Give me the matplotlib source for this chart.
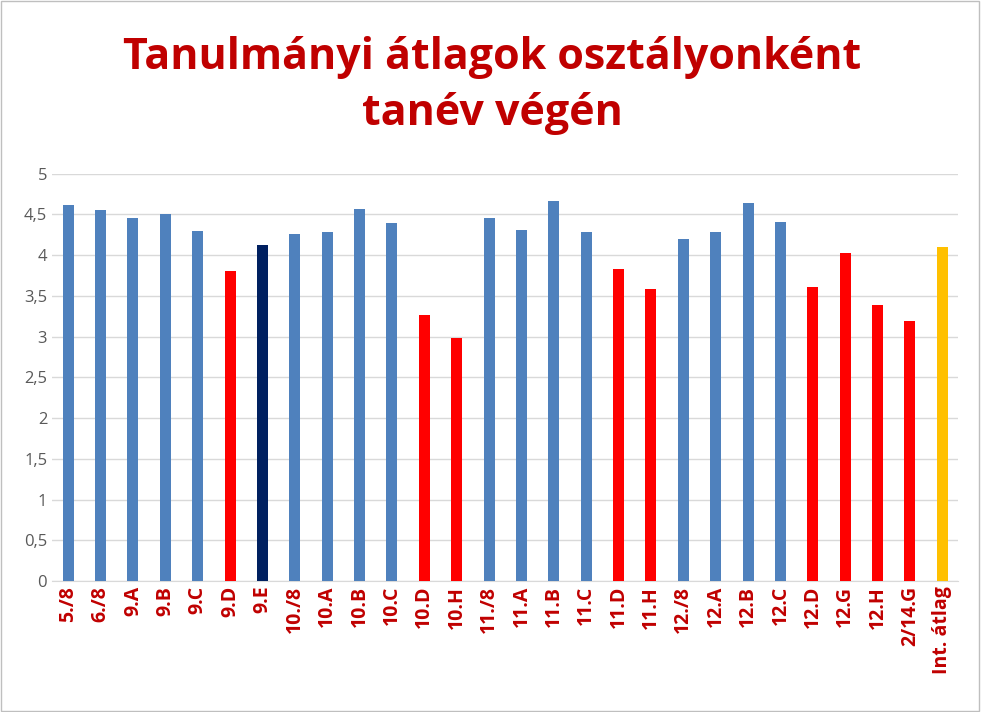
import matplotlib.pyplot as plt
from matplotlib.patches import Rectangle

classes = ["5./8", "6./8", "9.A", "9.B", "9.C", "9.D", "9.E", "10./8", "10.A", "10.B",
           "10.C", "10.D", "10.H", "11./8", "11.A", "11.B", "11.C", "11.D", "11.H", "12./8",
           "12.A", "12.B", "12.C", "12.D", "12.G", "12.H", "2/14.G", "Int. átlag"]
averages = [4.62, 4.55, 4.46, 4.50, 4.30, 3.81, 4.12, 4.26, 4.29, 4.57,
            4.39, 3.26, 2.98, 4.46, 4.31, 4.66, 4.29, 3.83, 3.59, 4.20,
            4.29, 4.64, 4.41, 3.61, 4.03, 3.39, 3.19, 4.10]
groups = ["ok", "ok", "ok", "ok", "ok", "low", "own", "ok", "ok", "ok",
          "ok", "low", "low", "ok", "ok", "ok", "ok", "low", "low", "ok",
          "ok", "ok", "ok", "low", "low", "low", "low", "avg"]
y_ticks = [0, 0.5, 1, 1.5, 2, 2.5, 3, 3.5, 4, 4.5, 5]
y_labels = ["0", "0,5", "1", "1,5", "2", "2,5", "3", "3,5", "4", "4,5", "5"]

palette = {"ok": "#4F81BD", "low": "#FF0000", "own": "#002060", "avg": "#FFC000"}

plt.rcParams["font.family"] = "Open Sans"
fig = plt.figure(figsize=(9.81, 7.12), dpi=100)
fig.patches.append(Rectangle((0.001, 0.001), 0.997, 0.997, transform=fig.transFigure,
                             fill=False, edgecolor="#BFBFBF", linewidth=1))
ax = fig.add_axes([0.053, 0.184, 0.924, 0.572])

x = range(len(classes))
ax.bar(x, averages, width=0.34, color=[palette[g] for g in groups], zorder=3)
ax.set_xlim(-0.5, len(classes) - 0.5)
ax.set_ylim(0, 5)
ax.set_yticks(y_ticks)
ax.set_yticklabels(y_labels, color="#595959", fontsize=12)
ax.set_xticks(list(x))
ax.set_xticklabels(classes, rotation=90, color="#C00000", fontsize=14, fontweight="bold")
ax.grid(axis="y", color="#D9D9D9", linewidth=1, zorder=0)
for side in ["top", "right", "left"]:
    ax.spines[side].set_visible(False)
ax.spines["bottom"].set_color("#D9D9D9")
ax.tick_params(length=0)

fig.text(0.502, 0.88, "Tanulmányi átlagok osztályonként\ntanév végén", ha="center", va="center",
         color="#C00000", fontsize=31, fontweight="bold", linespacing=1.4)

fig.savefig("out.png", dpi=100)
